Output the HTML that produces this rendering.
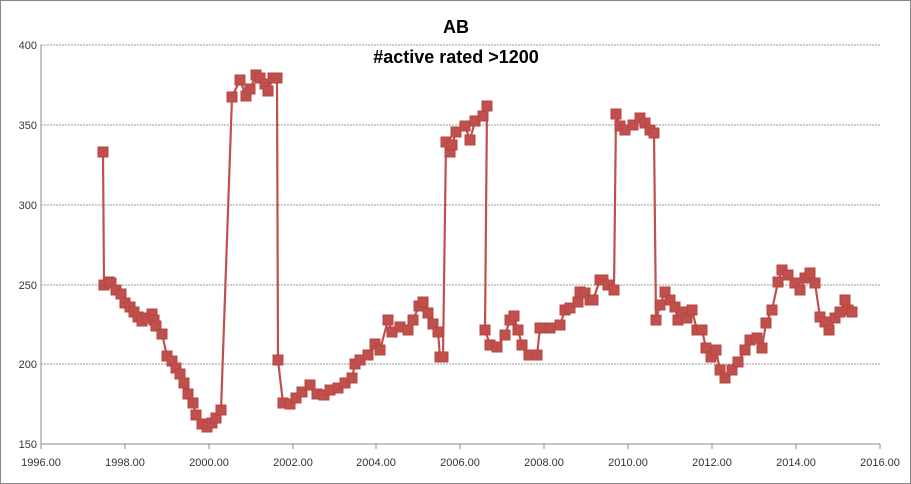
<!DOCTYPE html>
<html><head><style>body{margin:0;background:#fff}svg{display:block;font-family:"Liberation Sans",sans-serif}</style></head>
<body>
<svg width="911" height="484" viewBox="0 0 911 484">
<rect x="0.5" y="0.5" width="910" height="483" fill="#fff" stroke="#888"/>
<g stroke="#999" stroke-dasharray="2,1">
<line x1="41" y1="45" x2="880" y2="45"/><line x1="41" y1="125" x2="880" y2="125"/><line x1="41" y1="205" x2="880" y2="205"/><line x1="41" y1="285" x2="880" y2="285"/><line x1="41" y1="364" x2="880" y2="364"/>
</g>
<g stroke="#888"><line x1="41" y1="45" x2="41" y2="444"/><line x1="41" y1="444" x2="880" y2="444"/>
<line x1="41" y1="444" x2="41" y2="449"/><line x1="125" y1="444" x2="125" y2="449"/><line x1="209" y1="444" x2="209" y2="449"/><line x1="293" y1="444" x2="293" y2="449"/><line x1="376" y1="444" x2="376" y2="449"/><line x1="460" y1="444" x2="460" y2="449"/><line x1="544" y1="444" x2="544" y2="449"/><line x1="628" y1="444" x2="628" y2="449"/><line x1="712" y1="444" x2="712" y2="449"/><line x1="796" y1="444" x2="796" y2="449"/><line x1="880" y1="444" x2="880" y2="449"/></g>
<g font-size="11" fill="#333" text-anchor="end">
<text x="37" y="49">400</text><text x="37" y="129">350</text><text x="37" y="209">300</text><text x="37" y="289">250</text><text x="37" y="368">200</text><text x="37" y="448">150</text></g>
<g font-size="11" fill="#333" text-anchor="middle">
<text x="41" y="466">1996.00</text><text x="125" y="466">1998.00</text><text x="209" y="466">2000.00</text><text x="293" y="466">2002.00</text><text x="376" y="466">2004.00</text><text x="460" y="466">2006.00</text><text x="544" y="466">2008.00</text><text x="628" y="466">2010.00</text><text x="712" y="466">2012.00</text><text x="796" y="466">2014.00</text><text x="880" y="466">2016.00</text></g>
<g font-size="18" font-weight="bold" text-anchor="middle" fill="#000"><text x="456" y="33">AB</text><text x="456" y="63">#active rated &gt;1200</text></g>
<polyline fill="none" stroke="#c0504d" stroke-width="2.2" points="103,152 104,285 109,282 111,283 116,290 121,294 125,303 130,307 134,312 138,317 142,321 147,318 152,314 154,320 156,326 162,334 167,356 172,361 176,368 180,374 184,383 188,394 193,403 196,415 202,424 207,427 212,423 216,418 221,410 232,97 240,80 246,96 250,89 256,75 260,78 265,84 268,91 273,78 277,78 278,360 283,403 290,404 296,398 302,392 310,385 317,394 324,395 330,390 338,388 345,383 352,378 355,364 360,360 368,355 375,344 380,350 388,320 392,332 400,327 408,330 413,320 419,306 423,302 428,313 433,324 438,332 440,357 443,357 446,142 450,152 452,145 456,132 465,126 470,140 475,121 483,116 487,106 485,330 490,345 497,347 505,335 510,320 514,316 518,330 522,345 529,355 537,355 540,328 550,328 560,325 565,310 570,308 578,302 580,292 585,293 590,300 593,300 600,280 603,280 608,285 614,290 616,114 620,126 625,130 633,125 640,118 645,123 650,130 654,133 656,320 660,305 665,292 670,300 675,307 678,320 682,312 687,318 692,310 697,330 702,330 706,348 711,357 716,350 720,370 725,378 732,370 738,362 745,350 750,340 757,338 762,348 766,323 772,310 778,282 782,270 788,275 795,283 800,290 805,278 810,273 815,283 820,317 825,322 829,330 835,318 840,312 845,300 848,310 852,312"/>
<g id="m" fill="#c0504d" stroke="#b84541" stroke-width="1"></g>
<script>
var pts=document.querySelector('polyline').getAttribute('points').trim().split(/\s+/);var g=document.getElementById('m');
pts.forEach(function(p){var a=p.split(',');var r=document.createElementNS('http://www.w3.org/2000/svg','rect');r.setAttribute('x',a[0]-5);r.setAttribute('y',a[1]-5);r.setAttribute('width',10);r.setAttribute('height',10);g.appendChild(r);});
</script>
</svg>
</body></html>
